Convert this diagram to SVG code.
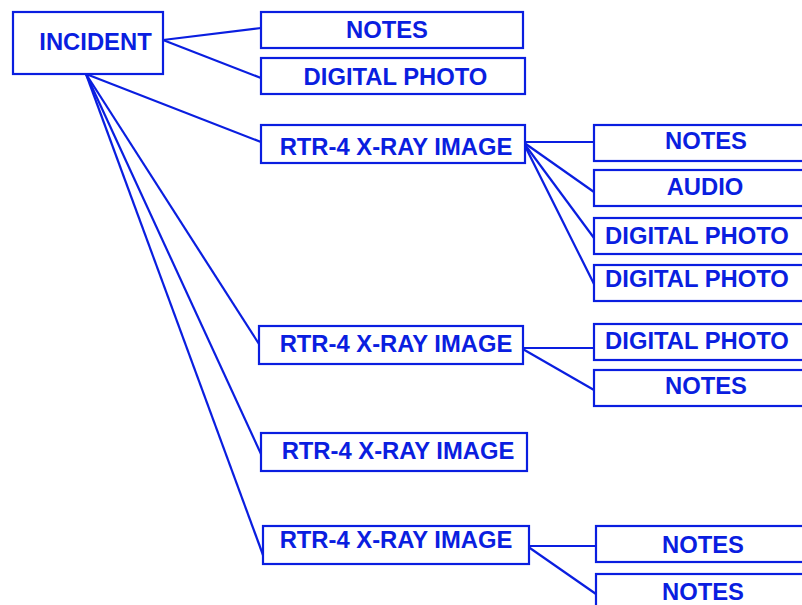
<svg xmlns="http://www.w3.org/2000/svg" width="802" height="605" viewBox="0 0 802 605">
<style>
.box{fill:#fff;stroke:#0a1ee0;stroke-width:2.2}
.t{font-family:"Liberation Sans",Arial,sans-serif;font-weight:bold;font-size:23.8px;fill:#0a1ee0;text-anchor:middle}
.c line{stroke:#0a1ee0;stroke-width:2.2}
</style>
<rect width="802" height="605" fill="#fff"/>
<g class="c" id="connectors">
<line x1="163" y1="40" x2="261" y2="28"/>
<line x1="163" y1="40" x2="261" y2="78"/>
<line x1="86" y1="74" x2="261" y2="142"/>
<line x1="86" y1="74" x2="259" y2="344"/>
<line x1="86" y1="74" x2="261" y2="454"/>
<line x1="86" y1="74" x2="263" y2="555"/>
<line x1="523" y1="142" x2="594" y2="142"/>
<line x1="523" y1="142" x2="594" y2="192"/>
<line x1="523" y1="142" x2="594" y2="238"/>
<line x1="523" y1="142" x2="594" y2="284"/>
<line x1="521" y1="348" x2="594" y2="348"/>
<line x1="521" y1="348" x2="594" y2="390"/>
<line x1="527" y1="546" x2="596" y2="546"/>
<line x1="527" y1="546" x2="596" y2="594"/>
</g>
<g id="incident"><rect class="box" x="13" y="12" width="150" height="62"/><text class="t" x="95.5" y="50">INCIDENT</text></g>
<g id="notes1"><rect class="box" x="261" y="12" width="262" height="36"/><text class="t" x="387" y="38">NOTES</text></g>
<g id="photo1"><rect class="box" x="261" y="58" width="264" height="36"/><text class="t" x="395.5" y="84.5">DIGITAL PHOTO</text></g>
<g id="xray1"><rect class="box" x="261" y="125" width="264" height="38"/><text class="t" x="396" y="154.5">RTR-4 X-RAY IMAGE</text></g>
<g id="notes2"><rect class="box" x="594" y="125" width="220" height="36"/><text class="t" x="706" y="149">NOTES</text></g>
<g id="audio"><rect class="box" x="594" y="170" width="220" height="36"/><text class="t" x="705" y="195">AUDIO</text></g>
<g id="photo2"><rect class="box" x="594" y="218" width="220" height="36"/><text class="t" x="697" y="244">DIGITAL PHOTO</text></g>
<g id="photo3"><rect class="box" x="594" y="265" width="220" height="36"/><text class="t" x="697" y="287">DIGITAL PHOTO</text></g>
<g id="xray2"><rect class="box" x="259" y="326" width="264" height="38"/><text class="t" x="396" y="352">RTR-4 X-RAY IMAGE</text></g>
<g id="photo4"><rect class="box" x="594" y="324" width="220" height="36"/><text class="t" x="697" y="349">DIGITAL PHOTO</text></g>
<g id="notes3"><rect class="box" x="594" y="370" width="220" height="36"/><text class="t" x="706" y="394">NOTES</text></g>
<g id="xray3"><rect class="box" x="261" y="433" width="266" height="38"/><text class="t" x="398" y="459">RTR-4 X-RAY IMAGE</text></g>
<g id="xray4"><rect class="box" x="263" y="526" width="266" height="38"/><text class="t" x="396" y="548">RTR-4 X-RAY IMAGE</text></g>
<g id="notes4"><rect class="box" x="596" y="526" width="220" height="36"/><text class="t" x="703" y="553">NOTES</text></g>
<g id="notes5"><rect class="box" x="596" y="574" width="220" height="40"/><text class="t" x="703" y="600">NOTES</text></g>
</svg>
